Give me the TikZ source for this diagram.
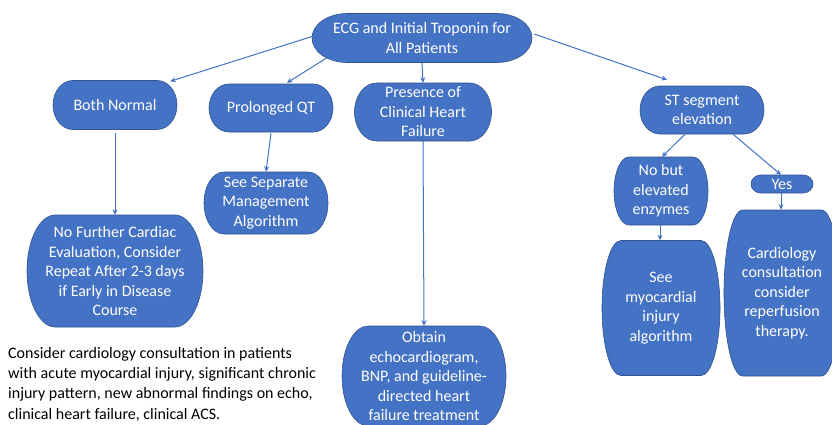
\documentclass[tikz,border=0pt]{standalone}
\usepackage{fontspec}
\setmainfont{Carlito}
\usetikzlibrary{arrows.meta}
\definecolor{ofblue}{HTML}{4472C4}
\definecolor{ofedge}{HTML}{2F528F}
\tikzset{
  termshape/.style={fill=ofblue, draw=ofedge, line width=0.6pt},
  boxtext/.style={text=white, align=center, inner sep=0pt,
    font=\fontsize{16}{19.5}\selectfont},
  arr/.style={draw=ofblue, line width=1pt, -{Stealth[length=5.5pt,width=5pt]}},
}
% name, cx, cy, w, h, text
\newcommand\termbox[6]{%
  \pgfmathsetmacro\trx{0.16*#4}%
  \pgfmathsetmacro\try{#5/2}%
  \filldraw[termshape] ({#2-#4/2+\trx},{#3-#5/2}) -- ({#2+#4/2-\trx},{#3-#5/2})
    arc[start angle=-90,end angle=90,x radius=\trx,y radius=\try]
    -- ({#2-#4/2+\trx},{#3+#5/2})
    arc[start angle=90,end angle=270,x radius=\trx,y radius=\try] -- cycle;
  \node[boxtext, minimum width=#4, minimum height=#5] (#1) at (#2,#3) {#6};
}
\begin{document}
\begin{tikzpicture}[x=1pt,y=-1pt]
\useasboundingbox (0,0) rectangle (832,424);
\clip (0,0) rectangle (832,424);
\fill[white] (0,0) rectangle (832,424);

\termbox{top}{422}{38}{220}{49}{ECG and Initial Troponin for\\All Patients}
\termbox{both}{115}{105}{124}{49}{Both Normal}
\termbox{qt}{271}{108}{124}{48}{Prolonged QT}
\termbox{hf}{423}{112}{137}{58}{Presence of\\Clinical Heart\\Failure}
\termbox{st}{702}{110}{124}{48}{ST segment\\elevation}
\termbox{nobut}{661}{191}{94}{68}{No but\\elevated\\enzymes}
\termbox{yes}{782}{184}{62}{18}{Yes}
\termbox{cardio}{782}{293}{116}{166}{Cardiology\\consultation\\consider\\reperfusion\\therapy.}
\termbox{myo}{661}{308}{118}{135}{See\\myocardial\\injury\\algorithm}
\termbox{sep}{266}{203}{124}{62}{See Separate\\Management\\Algorithm}
\termbox{nofurther}{115}{271}{176}{112}{No Further Cardiac\\Evaluation, Consider\\Repeat After 2-3 days\\if Early in Disease\\Course}
\termbox{echo}{424}{376}{164}{100}{Obtain\\echocardiogram,\\BNP, and guideline-\\directed heart\\failure treatment}

\node[anchor=north west, align=left, inner sep=0pt, text=black,
  font=\fontsize{16}{20.3}\selectfont] (note) at (8,347)
  {Consider cardiology consultation in patients\\
   with acute myocardial injury, significant chronic\\
   injury pattern, new abnormal findings on echo,\\
   clinical heart failure, clinical ACS.};

\draw[arr] ([xshift=5pt,yshift=3pt]top.west) -- ([xshift=-7pt,yshift=-1pt]both.north east);
\draw[arr] ([xshift=14.5pt,yshift=4.5pt]top.south west) -- ([xshift=16pt,yshift=1pt]qt.north);
\draw[arr] (top.south) -- (hf.north);
\draw[arr] ([xshift=2pt,yshift=4pt]top.east) -- ([xshift=-35pt,yshift=6pt]st.north);
\draw[arr] ([yshift=-3pt]both.south) -- (nofurther.north);
\draw[arr] ([yshift=-1pt]qt.south) -- (sep.north);
\draw[arr] (hf.south) -- (echo.north);
\draw[arr] ([xshift=-17pt]st.south) -- ([xshift=1pt]nobut.north);
\draw[arr] ([xshift=31pt]st.south) -- ([xshift=-1pt]yes.north);
\draw[arr] ([xshift=-1pt]yes.south) -- ([xshift=-1pt]cardio.north);
\draw[arr] ([xshift=-1pt]nobut.south) -- ([xshift=-1pt]myo.north);
\end{tikzpicture}
\end{document}
